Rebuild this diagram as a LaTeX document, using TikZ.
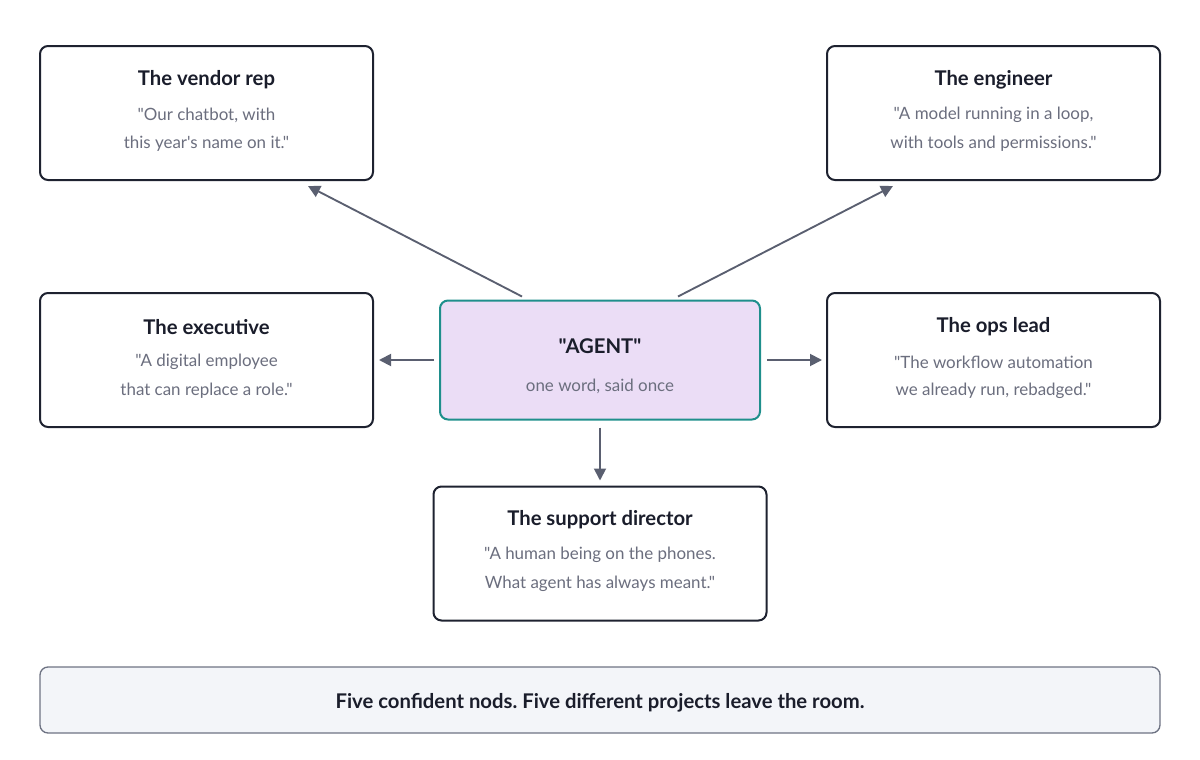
\documentclass[tikz,border=0pt]{standalone}
\usepackage{fontspec}
\setmainfont{Lato}
\newfontfamily\latoplain{Lato}
\frenchspacing
\usetikzlibrary{arrows.meta,calc}
\definecolor{boxborder}{HTML}{1E2230}
\definecolor{bodytxt}{HTML}{6B6E7E}
\definecolor{titletxt}{HTML}{1A1D2B}
\definecolor{arrowcol}{HTML}{5A5F70}
\definecolor{agentfill}{HTML}{EBDDF6}
\definecolor{agentborder}{HTML}{1F8F8C}
\definecolor{notefill}{HTML}{F3F5F9}
\definecolor{noteborder}{HTML}{6E7383}
\tikzset{
  card/.style={draw=boxborder, line width=1.5pt, rounded corners=6pt, fill=white, minimum width=333*0.75pt, minimum height=134*0.75pt, inner sep=0pt},
  agentbox/.style={draw=agentborder, line width=1.5pt, rounded corners=6pt, fill=agentfill, minimum width=320*0.75pt, minimum height=119*0.75pt, inner sep=0pt},
  notebox/.style={draw=noteborder, line width=1pt, rounded corners=6pt, fill=notefill, minimum width=1120*0.75pt, minimum height=66*0.75pt, inner sep=0pt},
  ttl/.style={font=\latoplain\frenchspacing\fontsize{15.2pt}{18pt}\selectfont\bfseries, text=titletxt, inner sep=0pt, yshift=-1.5pt},
  body/.style={font=\latoplain\frenchspacing\fontsize{12.7pt}{15pt}\selectfont, text=bodytxt, inner sep=0pt, yshift=-1.5pt},
  arr/.style={draw=arrowcol, line width=1.4pt, -{Triangle[length=9pt,width=9pt]}}
}
\begin{document}
\begin{tikzpicture}[x=0.75pt,y=-0.75pt]
\useasboundingbox (0,0) rectangle (1200,760);

% cards
\node[card] (vendor) at (206.5,113) {};
\node[ttl] at (206.5,78) {The vendor rep};
\node[body] at (206.5,113) {"Our chatbot, with};
\node[body] at (206.5,142) {this year's name on it."};

\node[card] (engineer) at (993.5,113) {};
\node[ttl] at (993.5,78) {The engineer};
\node[body] at (993.5,113) {"A model running in a loop,};
\node[body] at (993.5,142) {with tools and permissions."};

\node[card] (exec) at (206.5,360) {};
\node[ttl] at (206.5,325) {The executive};
\node[body] at (206.5,360) {"A digital employee};
\node[body] at (206.5,389) {that can replace a role."};

\node[card] (ops) at (993.5,360) {};
\node[ttl] at (993.5,325) {The ops lead};
\node[body] at (993.5,360) {"The workflow automation};
\node[body] at (993.5,389) {we already run, rebadged."};

\node[card] (support) at (600,553.5) {};
\node[ttl] at (600,518) {The support director};
\node[body] at (600,553) {"A human being on the phones.};
\node[body] at (600,582) {What agent has always meant."};

\node[agentbox] (agent) at (600,360) {};
\node[ttl] at (600,344) {"AGENT"};
\node[body] at (600,384) {one word, said once};

\node[notebox] (note) at (600,700) {};
\node[ttl] at (600,701) {Five confident nods. Five different projects leave the room.};

% arrows
\draw[arr] ($(agent.north)+(-78,-3)$) -- ($(vendor.south east)+(-66,5)$);
\draw[arr] ($(agent.north)+(78,-3)$) -- ($(engineer.south west)+(67,5)$);
\draw[arr] ($(agent.west)+(-5,0)$) -- ($(exec.east)+(5,0)$);
\draw[arr] ($(agent.east)+(6,0)$) -- ($(ops.west)+(-4,0)$);
\draw[arr] ($(agent.south)+(0,7)$) -- ($(support.north)+(0,-5)$);
\end{tikzpicture}
\end{document}
